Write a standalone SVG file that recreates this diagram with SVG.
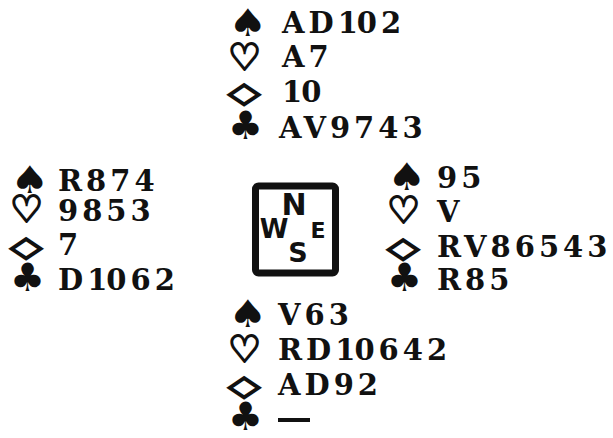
<svg xmlns="http://www.w3.org/2000/svg" width="613" height="438" viewBox="0 0 613 438">
<style>
.c{font-family:"DejaVu Serif","Liberation Serif",serif;font-weight:bold;font-size:29px;letter-spacing:4px;fill:#111}
.t{letter-spacing:-1px}
.s{font-family:"DejaVu Sans","Noto Sans",sans-serif;fill:#111}
.sp{font-size:38px}
.ht{font-size:37px;stroke:#111;stroke-width:2px}
.di{font-size:31px;stroke:#111;stroke-width:2px}
.cl{font-size:39px}
.k{font-family:"DejaVu Sans","Liberation Sans",sans-serif;font-weight:bold;fill:#111}
</style>
<rect width="613" height="438" fill="#fff"/>
<g id="north">
<text class="s sp" transform="translate(228 36) scale(1.15 1)">♠</text>
<text class="s ht" x="228" y="70">♡</text>
<text class="s di" transform="translate(228 102) scale(1.35 0.9)">◇</text>
<text class="s cl" x="228" y="139">♣</text>
<text class="c" x="282" y="33">AD<tspan class="t">1</tspan>02</text>
<text class="c" x="282" y="67">A7</text>
<text class="c" x="282" y="102"><tspan class="t">1</tspan>0</text>
<text class="c" x="279" y="138">AV9743</text>
</g>
<g id="west">
<text class="s sp" transform="translate(10 193) scale(1.15 1)">♠</text>
<text class="s ht" x="10" y="222">♡</text>
<text class="s di" transform="translate(10 256) scale(1.35 0.9)">◇</text>
<text class="s cl" x="10" y="291">♣</text>
<text class="c" x="58" y="191">R874</text>
<text class="c" x="58" y="221">9853</text>
<text class="c" x="58" y="255">7</text>
<text class="c" x="58" y="290">D<tspan class="t">1</tspan>062</text>
</g>
<g id="east">
<text class="s sp" transform="translate(387 190) scale(1.15 1)">♠</text>
<text class="s ht" x="387" y="223">♡</text>
<text class="s di" transform="translate(387 257) scale(1.35 0.9)">◇</text>
<text class="s cl" x="387" y="291">♣</text>
<text class="c" x="437" y="188">95</text>
<text class="c" x="437" y="222">V</text>
<text class="c" x="437" y="257">RV86543</text>
<text class="c" x="437" y="290">R85</text>
</g>
<g id="south">
<text class="s sp" transform="translate(228 327) scale(1.15 1)">♠</text>
<text class="s ht" x="228" y="362">♡</text>
<text class="s di" transform="translate(228 395) scale(1.35 0.9)">◇</text>
<text class="s cl" x="228" y="430">♣</text>
<text class="c" x="278" y="325">V63</text>
<text class="c" x="278" y="360">RD<tspan class="t">1</tspan>0642</text>
<text class="c" x="278" y="395">AD92</text>
<rect x="278" y="418" width="32" height="4" fill="#111"/>
</g>
<g id="compass">
<rect x="255.5" y="186" width="80" height="87" rx="3" fill="none" stroke="#111" stroke-width="7"/>
<text class="k" x="294" y="215" font-size="30" text-anchor="middle">N</text>
<text class="k" x="274" y="238" font-size="26" text-anchor="middle">W</text>
<text class="k" x="318" y="238" font-size="22" text-anchor="middle">E</text>
<text class="k" x="298" y="262" font-size="27" text-anchor="middle">S</text>
</g>
</svg>
